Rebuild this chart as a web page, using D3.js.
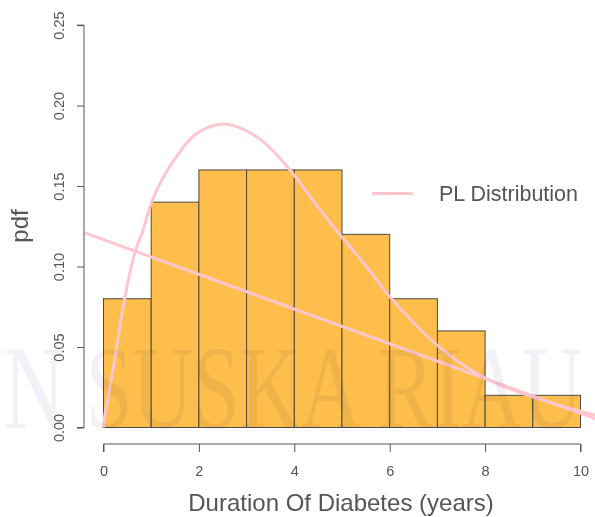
<!DOCTYPE html>
<html><head><meta charset="utf-8">
<script src="https://cdn.jsdelivr.net/npm/d3@7"></script>
<style>body{margin:0;background:#fff}svg{display:block}</style>
</head><body>
<svg id="c" width="595" height="517"></svg>
<script>
const binStarts = [0,1,2,3,4,5,6,7,8,9];
const binWidth = 1;
const density = [0.08,0.14,0.16,0.16,0.16,0.12,0.08,0.06,0.02,0.02];
const plX = [0,0.02,0.1,0.277,0.45,0.66,0.83,1.01,1.22,1.57,1.92,2.48,2.97,3.39,3.91,4.47,4.99,5.52,6.01,7.0,8.0,9.0,10.3,10.4];
const plY = [0,0.006,0.019,0.050,0.081,0.109,0.1227,0.140,0.1537,0.170,0.1819,0.1885,0.1848,0.1765,0.160,0.138,0.1185,0.0999,0.081,0.051,0.0307,0.019,0.0078,0.0072];
const lineX = [-0.4,10.4];
const lineY = [0.121,0.0045];
const xTicks = [0,2,4,6,8,10];
const yTicks = [0,0.05,0.10,0.15,0.20,0.25];
const yTickLabels = ["0.00","0.05","0.10","0.15","0.20","0.25"];
const legendLabel = "PL Distribution";
const xTitle = "Duration Of Diabetes (years)";
const yTitle = "pdf";

const svg = d3.select("#c");
const x = d3.scaleLinear().domain([-0.4,10.4]).range([84.4,599.6]);
const y = d3.scaleLinear().domain([-0.01,0.26]).range([443.6,9]);
const font = "'Liberation Sans', Arial, sans-serif";
const grey = "#555";

svg.append("defs").append("clipPath").attr("id","pr").append("rect")
  .attr("x",x(-0.4)).attr("y",y(0.26)).attr("width",x(10.4)-x(-0.4)).attr("height",y(-0.01)-y(0.26));

// bars
svg.append("g").selectAll("rect").data(binStarts).join("rect")
  .attr("x",d=>x(d)).attr("y",(d,i)=>y(density[i]))
  .attr("width",d=>x(d+binWidth)-x(d)).attr("height",(d,i)=>y(0)-y(density[i]))
  .attr("fill","#fdbe4c").attr("stroke","#4a4a4a").attr("stroke-width",1);

// curves
const g = svg.append("g").attr("clip-path","url(#pr)");
g.append("path").datum(lineX.map((d,i)=>[d,lineY[i]]))
  .attr("d",d3.line().x(d=>x(d[0])).y(d=>y(d[1])))
  .attr("fill","none").attr("stroke","#ffc6d0").attr("stroke-width",3);
g.append("path").datum(plX.map((d,i)=>[d,plY[i]]))
  .attr("d",d3.line().x(d=>x(d[0])).y(d=>y(d[1])).curve(d3.curveCatmullRom.alpha(0.5)))
  .attr("fill","none").attr("stroke","#ffc6d0").attr("stroke-width",3);

// x axis
const xa = svg.append("g").attr("transform","translate(0,444)")
  .call(d3.axisBottom(x).tickValues(xTicks).tickSize(8).tickFormat(d3.format("d")));
xa.select(".domain").attr("stroke",grey).attr("d",`M${x(0)},8V0H${x(10)}V8`);
xa.selectAll("line").attr("stroke",grey);
xa.selectAll("text").attr("fill",grey).attr("font-family",font).attr("font-size",14.5)
  .attr("y",32).attr("dy",null);

// y axis
const ya = svg.append("g").attr("transform","translate(84,0)")
  .call(d3.axisLeft(y).tickValues(yTicks).tickSize(7).tickFormat((d,i)=>yTickLabels[i]));
ya.select(".domain").attr("stroke",grey).attr("d",`M-7,${y(0)}H0V${y(0.25)}H-7`);
ya.selectAll("line").attr("stroke",grey);
ya.selectAll("text").attr("fill",grey).attr("font-family",font).attr("font-size",14.5)
  .attr("text-anchor","middle").attr("dy",null).attr("x",null)
  .attr("transform","translate(-20,0) rotate(-90)");

// titles
svg.append("text").attr("x",341).attr("y",511).attr("text-anchor","middle")
  .attr("font-family",font).attr("font-size",24).attr("fill",grey).text(xTitle);
svg.append("text").attr("transform","translate(28,226) rotate(-90)").attr("text-anchor","middle")
  .attr("font-family",font).attr("font-size",24).attr("fill",grey).text(yTitle);

// legend
svg.append("line").attr("x1",372).attr("x2",413).attr("y1",193.5).attr("y2",193.5)
  .attr("stroke","#ffc6d0").attr("stroke-width",3);
svg.append("text").attr("x",439).attr("y",201).attr("font-family",font).attr("font-size",21.5)
  .attr("fill",grey).text(legendLabel);

// watermark
svg.append("text").attr("transform","translate(4,428) scale(1,1.4)")
  .attr("font-family","'Liberation Serif', serif").attr("font-size",84)
  .attr("fill","#f2f1f7").style("mix-blend-mode","multiply").text("N SUSKA RIAU");
</script>
</body></html>
